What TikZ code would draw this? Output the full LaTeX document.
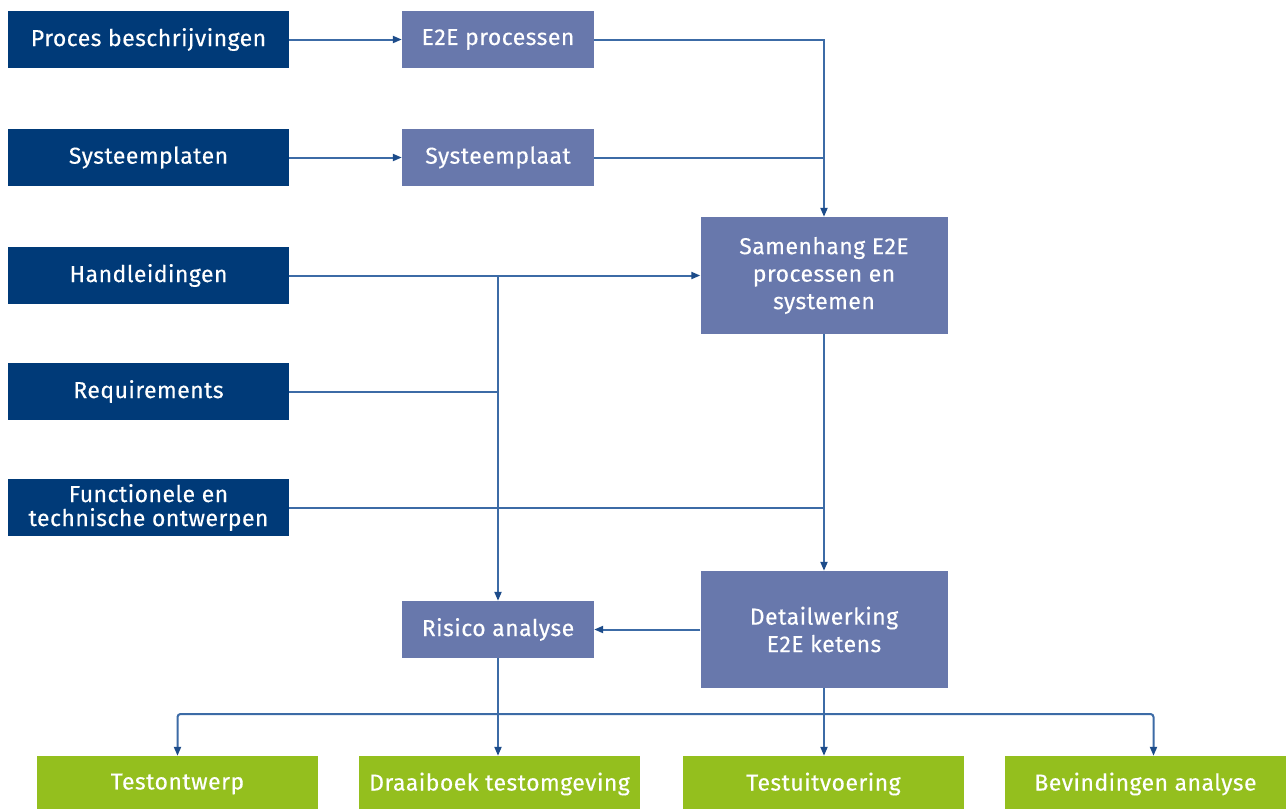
\documentclass[tikz,border=0pt]{standalone}
\usepackage{fontspec}
\setmainfont{Fira Sans}
\newfontfamily\labelfont{Fira Sans}[FakeBold=0.3,LetterSpace=2]
\usetikzlibrary{arrows.meta}

\definecolor{srcblue}{HTML}{003A78}
\definecolor{midblue}{HTML}{6878AC}
\definecolor{testgreen}{HTML}{94BF1E}
\definecolor{wire}{HTML}{3C6BA6}
\definecolor{tipblue}{HTML}{1D4C8A}

\tikzset{
  box/.style={rectangle, inner sep=0pt, text=white, align=center,
    font=\labelfont\fontsize{23}{24}\selectfont},
  source/.style={box, fill=srcblue, minimum width=281, minimum height=57},
  stage/.style={box, fill=midblue, minimum width=192, minimum height=57},
  bigstage/.style={box, fill=midblue, minimum width=247, minimum height=117,
    font=\labelfont\fontsize{23}{27.5}\selectfont},
  result/.style={box, fill=testgreen, minimum width=281, minimum height=56},
  wireline/.style={draw=wire, line width=2pt},
  flow/.style={wireline, -{Triangle[length=9pt,width=7pt,fill=tipblue,color=tipblue]}},
}

\begin{document}
\begin{tikzpicture}[x=1pt, y=-1pt]
\useasboundingbox (0,0) rectangle (1286,809);
\fill[white] (0,0) rectangle (1286,809);

% source documents
\node[source] (proc) at (148.5,39.5)  {Proces beschrijvingen};
\node[source] (sysp) at (148.5,157.5) {Systeemplaten};
\node[source] (hand) at (148.5,275.5) {Handleidingen};
\node[source] (reqs) at (148.5,391.5) {Requirements};
\node[source] (func) at (148.5,507.5) {Functionele en\\technische ontwerpen};

% intermediate products
\node[stage] (e2e)  at (498,39.5)  {E2E processen};
\node[stage] (sysl) at (498,157.5) {Systeemplaat};
\node[bigstage] (samen) at (824,275.5) {Samenhang E2E\\processen en\\systemen};
\node[bigstage] (detail) at (824,629.5) {Detailwerking\\E2E ketens};
\node[stage] (risico) at (498,629.5) {Risico analyse};

% test deliverables
\node[result] (ontw)  at (177.5,784) {Testontwerp};
\node[result] (draai) at (499.5,784) {Draaiboek testomgeving};
\node[result] (uitv)  at (823.5,784) {Testuitvoering};
\node[result] (bevin) at (1145.5,784) {Bevindingen analyse};

\coordinate (bus) at (0,714);

% top rows
\draw[flow] (proc) -- (e2e);
\draw[flow] (sysp) -- (sysl);
\draw[flow] (e2e.east) -| (samen.north);
\draw[wireline] (sysl.east) -- (sysl.east -| samen.north);

% inputs towards Samenhang and Risico analyse
\draw[flow] (hand.east) -- (samen.west);
\draw[flow] (hand.east -| risico.north) -- (risico.north);
\draw[wireline] (reqs.east) -- (reqs.east -| risico.north);
\draw[wireline] (func.east) -- (func.east -| samen.south);
\draw[flow] (samen.south) -- (detail.north);
\draw[flow] (detail.west) -- (risico.east);

% outputs to the test deliverables
\draw[flow] (risico.south) -- (risico.south |- draai.north);
\draw[flow] (detail.south) -- (detail.south |- uitv.north);
\draw[flow, rounded corners=3pt] (detail.south |- bus) -| (ontw.north);
\draw[flow, rounded corners=3pt] (detail.south |- bus) -| ([xshift=8pt]bevin.north);
\end{tikzpicture}
\end{document}
